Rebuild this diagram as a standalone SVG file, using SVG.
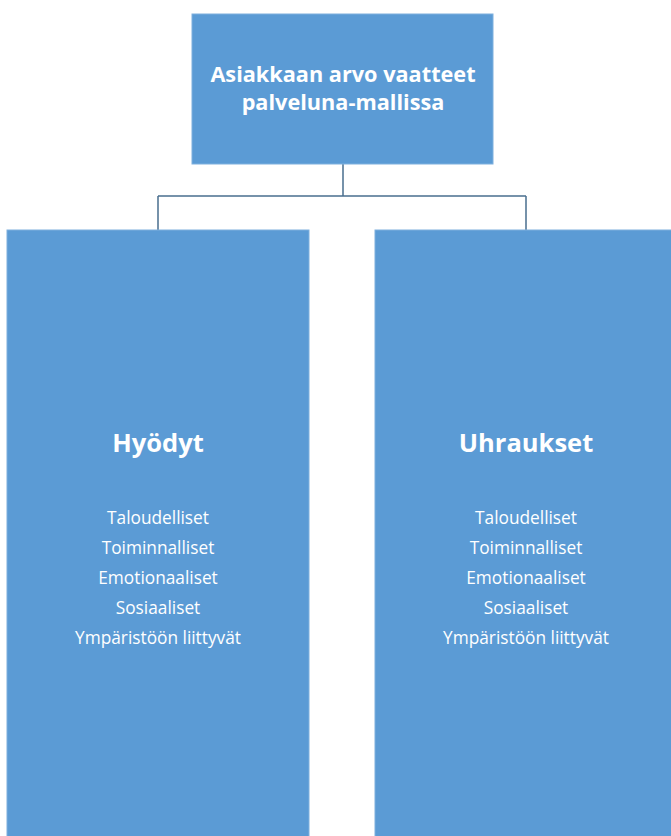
<svg xmlns="http://www.w3.org/2000/svg" width="671" height="836" viewBox="0 0 671 836">
<style>
.box{fill:#5B9BD5;stroke:#7FB0DE;stroke-width:1}
.t{font-family:"Open Sans","Liberation Sans",sans-serif;fill:#FFFFFF;text-anchor:middle}
.title{font-size:21.7px;font-weight:bold}
.head{font-size:25.5px;font-weight:bold}
.item{font-size:17.3px}
.conn{fill:none;stroke:#4A6F8F;stroke-width:1.5}
</style>
<rect width="671" height="836" fill="#FFFFFF"/>
<g id="connectors">
<path class="conn" d="M343 164V196M158 196H526M158 196V230M526 196V230"/>
</g>
<g id="root">
<rect class="box" x="192" y="14" width="301" height="150"/>
<text class="t title" x="343" y="82">Asiakkaan arvo vaatteet</text>
<text class="t title" x="343" y="110">palveluna-mallissa</text>
</g>
<g id="hyodyt">
<rect class="box" x="7" y="230" width="302" height="610"/>
<text class="t head" x="158" y="452">Hyödyt</text>
<text class="t item" x="158" y="524">Taloudelliset</text>
<text class="t item" x="158" y="554">Toiminnalliset</text>
<text class="t item" x="158" y="584">Emotionaaliset</text>
<text class="t item" x="158" y="614">Sosiaaliset</text>
<text class="t item" x="158" y="644">Ympäristöön liittyvät</text>
</g>
<g id="uhraukset">
<rect class="box" x="375" y="230" width="302" height="610"/>
<text class="t head" x="526" y="452">Uhraukset</text>
<text class="t item" x="526" y="524">Taloudelliset</text>
<text class="t item" x="526" y="554">Toiminnalliset</text>
<text class="t item" x="526" y="584">Emotionaaliset</text>
<text class="t item" x="526" y="614">Sosiaaliset</text>
<text class="t item" x="526" y="644">Ympäristöön liittyvät</text>
</g>
</svg>
